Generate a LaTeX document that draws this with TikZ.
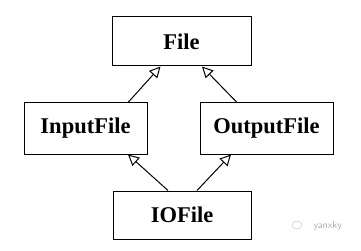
\documentclass[tikz,border=0pt]{standalone}
\usepackage{fontspec}
\setmainfont{Liberation Serif}
\usetikzlibrary{arrows.meta}
\begin{document}
\begin{tikzpicture}[x=1pt,y=1pt,
  cls/.style={draw, line width=1pt, inner sep=0pt, font=\fontsize{22.5}{24}\selectfont\bfseries},
  inh/.style={line width=1pt, -{Triangle[open, length=11pt, width=11pt]}}]
\useasboundingbox (0,0) rectangle (361,-251);
\node[cls, minimum width=139pt, minimum height=49pt] (file) at (181.5,-41.5) {File};
\node[cls, minimum width=123pt, minimum height=51pt] (input) at (85.5,-128.5) {InputFile};
\node[cls, minimum width=133pt, minimum height=51pt] (output) at (266.5,-128.5) {OutputFile};
\node[cls, minimum width=138pt, minimum height=48pt] (io) at (182,-215) {IOFile};
\draw[inh] ([xshift=42.5pt]input.north) -- ([xshift=-21pt]file.south);
\draw[inh] ([xshift=-29.5pt]output.north) -- ([xshift=20.5pt]file.south);
\draw[inh] ([xshift=-14pt]io.north) -- ([xshift=42.5pt]input.south);
\draw[inh] ([xshift=15pt]io.north) -- ([xshift=-35.5pt]output.south);
\draw[gray!40, line width=0.6pt] (297,-225) ellipse (5pt and 4pt);
\node[text=gray!70, font=\sffamily\fontsize{10}{11}\selectfont, anchor=west] (wm) at (310,-226) {yanxky};
\end{tikzpicture}
\end{document}
